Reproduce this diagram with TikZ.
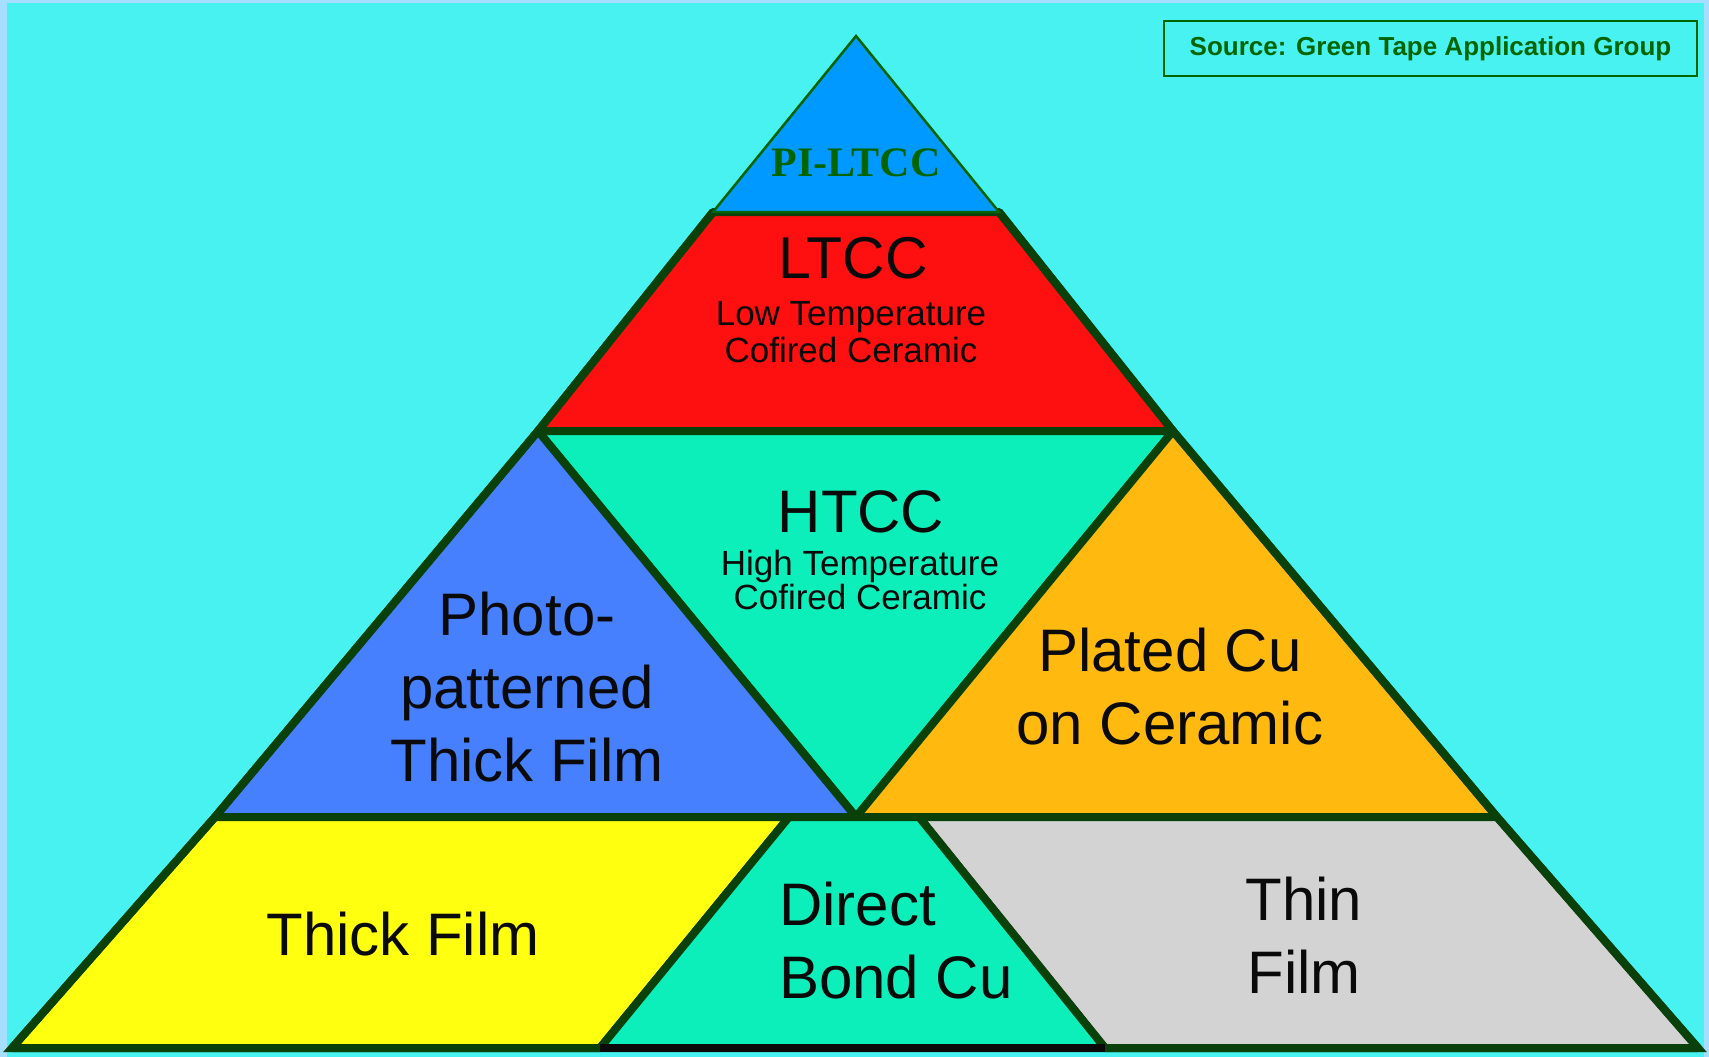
\documentclass[tikz,border=0pt]{standalone}
\usepackage{fontspec}
\setmainfont{Liberation Sans}
\newfontfamily\piserif{Liberation Serif}
\usetikzlibrary{calc}
\definecolor{frameblue}{HTML}{A6DEFF}
\definecolor{sky}{HTML}{48F2F0}
\definecolor{edge}{HTML}{0A400A}
\definecolor{pigreen}{HTML}{006400}
\definecolor{piblue}{HTML}{0099FF}
\definecolor{ltccred}{HTML}{FF1010}
\definecolor{teal}{HTML}{0CEFBA}
\definecolor{photoblue}{HTML}{4680FF}
\definecolor{plated}{HTML}{FFB90F}
\definecolor{thickyel}{HTML}{FFFF10}
\definecolor{thingray}{HTML}{D3D3D3}
\definecolor{ink}{HTML}{0A0A0A}

\begin{document}
\begin{tikzpicture}[x=1pt,y=-1pt,font=\fontsize{60}{73}\selectfont,
  cell/.style={draw=edge,line width=8pt,line join=round},
  lbl/.style={text=ink,align=center,inner sep=0pt},
  sub/.style={lbl,font=\fontsize{35}{37}\selectfont}]
\fill[frameblue] (0,0) rectangle (1709,1057);
\fill[sky] (7,3) rectangle (1704,1057);
% corner points of the pyramid
\foreach \n/\x/\y in {A/856/36,T1L/713/212,T1R/999/212,L2/538/431,R2/1173/431,
  L3/215/817,M3/856/817,R3/1497/817,BL/12/1048,BR/1698/1048,
  D1/789/817,D2/919/817,D3/600/1048,D4/1105/1048}{\coordinate (\n) at (\x,\y);}
% layers
\filldraw[cell,fill=ltccred] (T1L)--(T1R)--(R2)--(L2)--cycle;
\filldraw[cell,fill=teal] (L2)--(R2)--(M3)--cycle;
\filldraw[cell,fill=photoblue] (L2)--(M3)--(L3)--cycle;
\filldraw[cell,fill=plated] (R2)--(R3)--(M3)--cycle;
\filldraw[cell,fill=thickyel] (L3)--(D1)--(D3)--(BL)--cycle;
\filldraw[cell,fill=thingray] (D2)--(R3)--(BR)--(D4)--cycle;
\filldraw[cell,fill=teal] (D1)--(D2)--(D4)--(D3)--cycle;
\draw[line width=8pt,ink] (D3)--(D4);
% outline of the pyramid
\draw[draw=edge,line width=8pt,line join=miter] (T1L)--(L2)--(L3)--(BL)--(D3);
\draw[draw=edge,line width=8pt,line join=miter] (T1R)--(R2)--(R3)--(BR)--(D4);
\filldraw[draw=pigreen,line width=2.5pt,fill=piblue] (A)--(T1R)--(T1L)--cycle;
% labels
\node[text=pigreen,font=\piserif\bfseries\fontsize{42}{44}\selectfont,inner sep=0pt] (pi) at (856,163) {PI-LTCC};
\node[lbl,font=\fontsize{59}{60}\selectfont] (ltcc) at (853,258) {LTCC};
\node[sub] (ltccsub) at (851,332) {Low Temperature\\Cofired Ceramic};
\node[lbl] (htcc) at (861,512) {HTCC};
\node[sub,font=\fontsize{35}{34}\selectfont] (htccsub) at (860,580) {High Temperature\\Cofired Ceramic};
\node[lbl] (photo) at (527,687) {Photo-\\patterned\\Thick Film};
\node[lbl] (platedcu) at (1170,687) {Plated Cu\\on Ceramic};
\node[lbl] (thick) at (403,934) {Thick Film};
\node[lbl,align=left,anchor=west] (dbc) at (779,941) {Direct\\Bond Cu};
\node[lbl] (thin) at (1304,935) {Thin\\Film};
\node[draw=pigreen,line width=2pt,text=pigreen,font=\bfseries\fontsize{26}{28}\selectfont,
  minimum width=533,minimum height=55,inner sep=0pt] (src) at (1430.5,48.5) {Source: Green Tape Application Group};
\end{tikzpicture}
\end{document}
